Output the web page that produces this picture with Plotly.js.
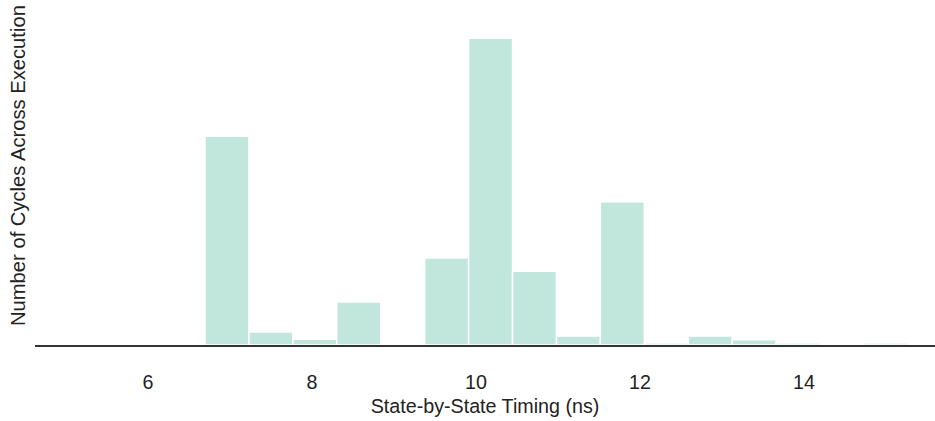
<!DOCTYPE html>
<html>
<head>
<meta charset="utf-8">
<script src="https://cdn.plot.ly/plotly-3.0.1.min.js"></script>
<style>html,body{margin:0;padding:0;background:#fff;}#chart{width:935px;height:421px;}</style>
</head>
<body>
<div id="chart"></div>
<script>
// Bin centres (ns) and counts per bin
const binCenters = [6.963, 7.499, 8.035, 8.570, 9.106, 9.642, 10.178, 10.714, 11.250, 11.785, 12.321, 12.857, 13.393, 13.929, 14.464, 15.000];
const cycleCounts = [102, 6.3, 2.8, 21, 0, 42.5, 150, 36, 4.4, 70, 1, 4.4, 2.6, 1, 0, 1];
const binWidth = 0.5358;
const xTickVals = [6, 8, 10, 12, 14];
const xTickText = ['6', '8', '10', '12', '14'];

const trace = {
  type: 'bar',
  x: binCenters,
  y: cycleCounts,
  width: binCenters.map(() => binWidth),
  marker: { color: '#c1e6dc', line: { color: '#ffffff', width: 1.5 } },
  hoverinfo: 'x+y'
};

const FS = 19.7;
const layout = {
  width: 935, height: 421,
  margin: { l: 35, r: 0, t: 22, b: 76 },
  paper_bgcolor: '#ffffff', plot_bgcolor: '#ffffff',
  font: { family: 'Liberation Sans, Arial, sans-serif', color: '#222', size: FS },
  showlegend: false,
  xaxis: {
    range: [4.622, 15.598],
    tickvals: xTickVals, ticktext: xTickText,
    showgrid: false, zeroline: false,
    showline: true, linecolor: '#333', linewidth: 2,
    ticks: '', ticklabelstandoff: 18,
    tickfont: { size: FS, color: '#222' },
    title: { text: 'State-by-State Timing (ns)', font: { size: FS, color: '#222' }, standoff: 8 }
  },
  yaxis: {
    autorange: true,
    showgrid: false, zeroline: false, showline: false,
    showticklabels: false, ticks: ''
  },
  annotations: [{
    text: 'Number of Cycles Across Execution',
    textangle: -90,
    xref: 'paper', yref: 'paper',
    x: -35/900, y: (345-166)/323,
    xanchor: 'left', yanchor: 'middle',
    xshift: 5,
    showarrow: false,
    font: { size: 20.2, color: '#222' }
  }]
};

Plotly.newPlot('chart', [trace], layout, { displayModeBar: false, staticPlot: true });
</script>
</body>
</html>
